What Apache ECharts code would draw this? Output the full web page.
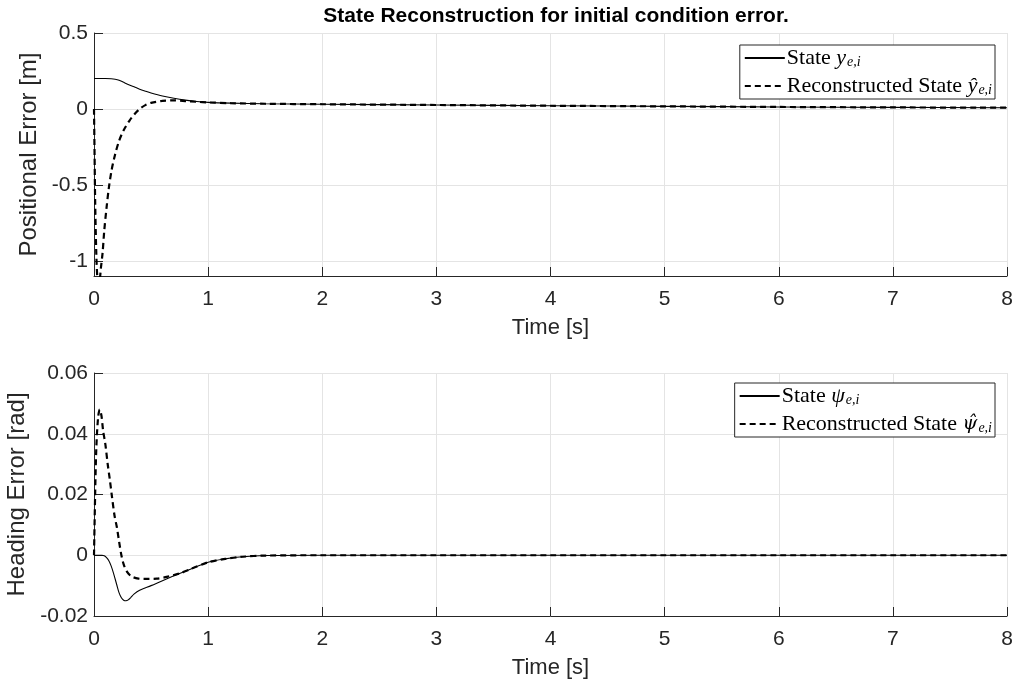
<!DOCTYPE html>
<html>
<head>
<meta charset="utf-8">
<script src="https://cdn.jsdelivr.net/npm/echarts@6/dist/echarts.min.js"></script>
<style>
  html, body { margin: 0; padding: 0; background: #ffffff; }
  #chart { width: 1012px; height: 683px; }
</style>
</head>
<body>
<div id="chart"></div>
<script>
// Positional error y_e,i and its reconstruction (top panel)
const tPosState = [0, 0.05, 0.1, 0.15, 0.185, 0.22, 0.26, 0.31, 0.36, 0.4, 0.45, 0.5, 0.6, 0.7, 0.8, 0.9, 1.0, 1.2, 1.5, 2, 3, 4, 5, 6, 7, 8];
const posState  = [0.2, 0.2, 0.2, 0.199, 0.196, 0.189, 0.175, 0.158, 0.143, 0.13, 0.117, 0.105, 0.085, 0.07, 0.058, 0.049, 0.043, 0.038, 0.034, 0.031, 0.026, 0.021, 0.017, 0.013, 0.010, 0.008];
const tPosRecon = [0, 0.005, 0.01, 0.02, 0.03, 0.04, 0.05, 0.06, 0.075, 0.09, 0.11, 0.13, 0.155, 0.185, 0.22, 0.26, 0.31, 0.36, 0.4, 0.45, 0.5, 0.6, 0.7, 0.8, 0.9, 1.0, 1.2, 1.5, 2, 3, 4, 5, 6, 7, 8];
const posRecon  = [0, -0.3, -0.6, -0.95, -1.12, -1.15, -1.13, -1.05, -0.95, -0.8, -0.65, -0.52, -0.4, -0.3, -0.21, -0.14, -0.078, -0.03, 0.0, 0.025, 0.04, 0.053, 0.056, 0.052, 0.047, 0.043, 0.038, 0.034, 0.031, 0.026, 0.021, 0.017, 0.013, 0.010, 0.008];

// Heading error psi_e,i and its reconstruction (bottom panel)
const tHeadState = [0, 0.07, 0.09, 0.11, 0.13, 0.15, 0.17, 0.2, 0.22, 0.24, 0.26, 0.28, 0.3, 0.32, 0.35, 0.4, 0.5, 0.58, 0.66, 0.75, 0.85, 1.0, 1.15, 1.3, 1.5, 2, 3, 4, 5, 6, 7, 8];
const headState  = [0, 0, -0.0002, -0.0008, -0.0018, -0.0035, -0.0058, -0.0098, -0.0124, -0.014, -0.0148, -0.015, -0.0147, -0.014, -0.0128, -0.0115, -0.0100, -0.0087, -0.0074, -0.006, -0.0045, -0.0023, -0.0012, -0.0005, -0.0001, 0, 0, 0, 0, 0, 0, 0];
const tHeadRecon = [0, 0.01, 0.02, 0.035, 0.05, 0.065, 0.08, 0.1, 0.12, 0.14, 0.155, 0.18, 0.2, 0.22, 0.24, 0.26, 0.29, 0.33, 0.39, 0.45, 0.55, 0.65, 0.75, 0.85, 1.0, 1.15, 1.3, 1.5, 2, 3, 4, 5, 6, 7, 8];
const headRecon  = [0, 0.02, 0.035, 0.045, 0.048, 0.046, 0.041, 0.0364, 0.030, 0.0245, 0.02, 0.013, 0.0093, 0.0045, 0.0, -0.003, -0.0055, -0.007, -0.0077, -0.0078, -0.0077, -0.007, -0.006, -0.0045, -0.0023, -0.0012, -0.0005, -0.0001, 0, 0, 0, 0, 0, 0, 0];

// Axis ranges
const timeTicks = { min: 0, max: 8, interval: 1 };
const posRange = { min: -1.1, max: 0.5 };
const headRange = { min: -0.02, max: 0.06, interval: 0.02 };

const pairs = (t, v) => t.map((x, i) => [x, v[i]]);

const SANS = '"Liberation Sans", Arial, Helvetica, sans-serif';
const SERIF = '"Liberation Serif", "Times New Roman", serif';
const AXIS_COLOR = '#262626';
const GRID_COLOR = '#e4e4e4';

const legendNames = {
  'State y': '{r|State }{m|y}{s|e,i}',
  'Reconstructed y': '{r|Reconstructed State }{m|\u0177}{s|e,i}',
  'State psi': '{r|State }{m|\u03c8}{s|e,i}',
  'Reconstructed psi': '{r|Reconstructed State }{h|\u03c8\u0302}{s|e,i}'
};
const legendRich = {
  r: { fontFamily: SERIF, fontSize: 22, color: '#000', lineHeight: 22 },
  m: { fontFamily: SERIF, fontSize: 22, fontStyle: 'italic', color: '#000', lineHeight: 22 },
  h: { fontFamily: '"DejaVu Serif", serif', fontSize: 19, fontStyle: 'italic', color: '#000', lineHeight: 22 },
  s: { fontFamily: SERIF, fontSize: 14, fontStyle: 'italic', color: '#000', verticalAlign: 'bottom', padding: [0, 0, 0, 1] }
};

function xAxisCfg(gridIndex) {
  return {
    type: 'value', gridIndex,
    min: timeTicks.min, max: timeTicks.max, interval: timeTicks.interval,
    name: 'Time [s]', nameLocation: 'middle', nameGap: 41,
    nameTextStyle: { fontFamily: SANS, fontSize: 22, color: AXIS_COLOR },
    axisLine: { show: true, onZero: false, lineStyle: { color: AXIS_COLOR, width: 1 } },
    axisTick: { show: true, inside: true, length: 9, lineStyle: { color: AXIS_COLOR } },
    axisLabel: { fontFamily: SANS, fontSize: 21, color: AXIS_COLOR, margin: 13 },
    splitLine: { show: true, lineStyle: { color: GRID_COLOR, width: 1 } }
  };
}

function yAxisCfg(gridIndex, name, range, extra) {
  const base = {
    type: 'value', gridIndex,
    min: range.min, max: range.max,
    name, nameLocation: 'middle', nameGap: 52,
    nameTextStyle: { fontFamily: SANS, fontSize: 24, color: AXIS_COLOR },
    axisLine: { show: true, onZero: false, lineStyle: { color: AXIS_COLOR, width: 1 } },
    axisTick: { show: true, inside: true, length: 9, lineStyle: { color: AXIS_COLOR } },
    axisLabel: { fontFamily: SANS, fontSize: 21, color: AXIS_COLOR, margin: 6 },
    splitLine: { show: true, lineStyle: { color: GRID_COLOR, width: 1 } }
  };
  if (extra.interval != null) base.interval = extra.interval;
  if (extra.splitNumber != null) base.splitNumber = extra.splitNumber;
  if (extra.hideMin) base.axisLabel.showMinLabel = false;
  return base;
}

function lineSeries(name, xi, yi, data, dashed) {
  return {
    name, type: 'line', xAxisIndex: xi, yAxisIndex: yi,
    data, showSymbol: false, symbol: 'none', smooth: 0.3, clip: true,
    lineStyle: dashed ? { color: '#000', width: 2.2, type: [6, 4] } : { color: '#000', width: 1.1 },
    itemStyle: { color: '#000' },
    animation: false
  };
}

function legendCfg(top, names) {
  return {
    orient: 'vertical', right: 17, top,
    data: names,
    itemWidth: 40, itemHeight: 14, itemGap: 6,
    padding: [2, 3, 2, 4],
    borderColor: '#262626', borderWidth: 1, backgroundColor: '#ffffff',
    itemStyle: { opacity: 0 },
    formatter: (n) => legendNames[n],
    textStyle: { rich: legendRich, padding: [0, 0, 0, -3] },
    selectedMode: false
  };
}

const chart = echarts.init(document.getElementById('chart'), null, { renderer: 'canvas' });
chart.setOption({
  animation: false,
  backgroundColor: '#ffffff',
  title: {
    text: 'State Reconstruction for initial condition error.',
    left: 551, top: 1, textAlign: 'center',
    textStyle: { fontFamily: SANS, fontSize: 21, fontWeight: 'bold', color: '#000' }
  },
  grid: [
    { left: 94, right: 5, top: 33, height: 243, outerBoundsMode: 'none', containLabel: false },
    { left: 94, right: 5, top: 373, height: 243, outerBoundsMode: 'none', containLabel: false }
  ],
  xAxis: [xAxisCfg(0), xAxisCfg(1)],
  yAxis: [
    yAxisCfg(0, 'Positional Error [m]', posRange, { splitNumber: 3, hideMin: true }),
    yAxisCfg(1, 'Heading Error [rad]', headRange, { interval: headRange.interval })
  ],
  legend: [
    legendCfg(45, ['State y', 'Reconstructed y']),
    legendCfg(383, ['State psi', 'Reconstructed psi'])
  ],
  series: [
    lineSeries('State y', 0, 0, pairs(tPosState, posState), false),
    lineSeries('Reconstructed y', 0, 0, pairs(tPosRecon, posRecon), true),
    lineSeries('State psi', 1, 1, pairs(tHeadState, headState), false),
    lineSeries('Reconstructed psi', 1, 1, pairs(tHeadRecon, headRecon), true)
  ]
});
</script>
</body>
</html>
